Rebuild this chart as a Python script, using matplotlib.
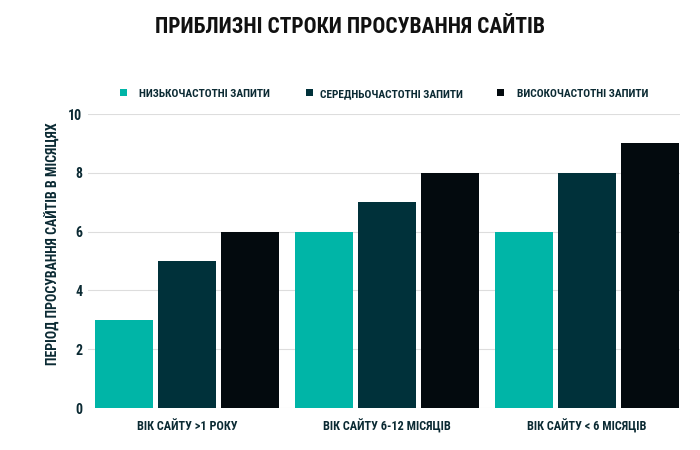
import matplotlib
matplotlib.use("Agg")
import matplotlib.pyplot as plt
import numpy as np
from matplotlib import font_manager
from matplotlib.patches import Rectangle

categories = ["ВІК САЙТУ >1 РОКУ", "ВІК САЙТУ 6-12 МІСЯЦІВ", "ВІК САЙТУ < 6 МІСЯЦІВ"]
series_names = ["НИЗЬКОЧАСТОТНІ ЗАПИТИ", "СЕРЕДНЬОЧАСТОТНІ ЗАПИТИ", "ВИСОКОЧАСТОТНІ ЗАПИТИ"]
low_freq = [3, 6, 6]
mid_freq = [5, 7, 8]
high_freq = [6, 8, 9]
colors = ["#00B5A7", "#00313A", "#030A0E"]
yticks = [0, 2, 4, 6, 8, 10]

names = {f.name for f in font_manager.fontManager.ttflist}
family = 'DejaVu Sans'
for cand in ['Roboto Condensed', 'Liberation Sans Narrow', 'Open Sans Condensed', 'Noto Sans Condensed']:
    if cand in names:
        family = cand
        break
plt.rcParams['font.family'] = [family, 'DejaVu Sans']
text_color = "#0B2A33"
fp = dict(fontweight='bold')

W, H = 700, 450
fig = plt.figure(figsize=(7, 4.5), dpi=100)
ax = fig.add_axes([88 / W, 1 - 408 / H, 592 / W, 294 / H])

x = np.arange(len(categories))
width = 0.29
step = 0.315
for i, (vals, c, name) in enumerate(zip([low_freq, mid_freq, high_freq], colors, series_names)):
    ax.bar(x + (i - 1) * step, vals, width, color=c, label=name, zorder=3)

ax.set_xlim(-0.495, 2.465)
ax.set_ylim(0, 10)
ax.set_yticks(yticks)
ax.yaxis.grid(True, color="#DDDDDD", linewidth=0.8, zorder=0)
ax.set_axisbelow(True)
for s in ax.spines.values():
    s.set_visible(False)
ax.tick_params(axis='both', length=0, colors=text_color)
ax.set_xticks(x)
ax.set_xticklabels(categories, fontsize=8.8, color=text_color, va='baseline', **fp)
for lab in ax.get_yticklabels():
    lab.set_fontsize(10)
    lab.set_fontweight('bold')
    lab.set_color(text_color)
ax.tick_params(axis='x', pad=16)
ax.tick_params(axis='y', pad=4)

ax.set_ylabel("ПЕРІОД ПРОСУВАННЯ САЙТІВ В МІСЯЦЯХ", fontsize=10, color=text_color, va='center', **fp)
ax.yaxis.set_label_coords((53 - 88) / 592, (408 - 243.5) / 294)

fig.text(0.5, 1 - 27 / H, "ПРИБЛИЗНІ СТРОКИ ПРОСУВАННЯ САЙТІВ", ha='center', va='center',
         fontsize=15.5, color="#111111", **fp)

# legend, laid out manually so that all labels share one baseline
marker_x = [120, 306, 497]
text_x = [139, 320, 517]
for mx, tx, c, name in zip(marker_x, text_x, colors, series_names):
    fig.patches.append(Rectangle((mx / W, 1 - 96 / H), 7 / W, 7 / H, transform=fig.transFigure,
                                 facecolor=c, edgecolor='none'))
    fig.text(tx / W, 1 - 97 / H, name, ha='left', va='baseline', fontsize=8.2,
             color=text_color, **fp)

fig.savefig("out.png", dpi=100)
